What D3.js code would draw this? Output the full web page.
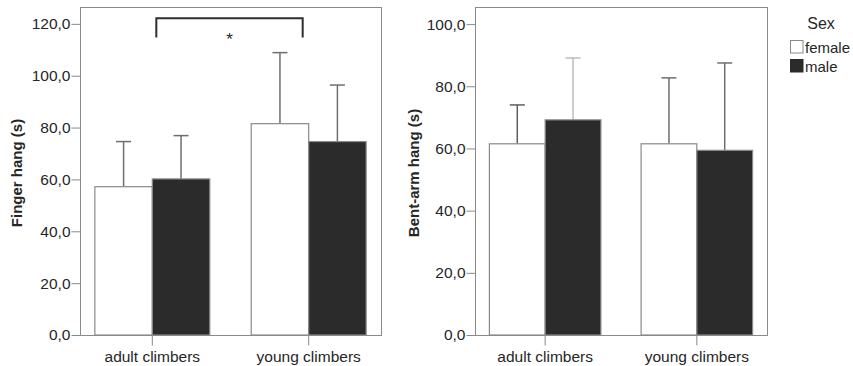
<!DOCTYPE html>
<html><head><meta charset="utf-8">
<script src="https://cdn.jsdelivr.net/npm/d3@7"></script>
<style>
body{margin:0;background:#fff;}
svg{display:block;font-family:"Liberation Sans",Arial,sans-serif;}
</style></head>
<body><svg id="c" width="853" height="366"></svg>
<script>
const categories = ["adult climbers", "young climbers"];
const seriesNames = ["female", "male"];
const fingerMeanFemale = [57.2, 81.5];
const fingerMeanMale = [60.2, 74.6];
const fingerUpperFemale = [74.6, 108.9];
const fingerUpperMale = [76.9, 96.4];
const bentMeanFemale = [61.5, 61.5];
const bentMeanMale = [69.2, 59.4];
const bentUpperFemale = [74.0, 82.7];
const bentUpperMale = [89.1, 87.5];
const fingerTicks = [0, 20, 40, 60, 80, 100, 120];
const bentTicks = [0, 20, 40, 60, 80, 100];

const svg = d3.select("#c");
const fmt = v => d3.format(".1f")(v).replace(".", ",");
const textColor = "#262626";
const frameColor = "#8a8a8a";
const fills = {female: "#ffffff", male: "#2b2b2b"};

function panel(opts) {
  const {x0, x1, yTop, yBot, yMax, ticks, title, titleX, meanF, meanM, upF, upM, errColors} = opts;
  const g = svg.append("g");
  const y = d3.scaleLinear().domain([0, yMax]).range([yBot, yTop]);
  const x = d3.scaleBand().domain(categories).range([x0, x1]).paddingInner(0.265).paddingOuter(0.095);
  const xs = d3.scaleBand().domain(seriesNames).range([0, x.bandwidth()]);

  g.append("rect").attr("x", x0 + 0.5).attr("y", yTop + 0.5).attr("width", x1 - x0).attr("height", yBot - yTop)
    .attr("fill", "none").attr("stroke", frameColor).attr("stroke-width", 1);

  const ya = g.append("g").attr("transform", `translate(${x0 + 0.5},0)`)
    .call(d3.axisLeft(y).tickValues(ticks).tickFormat(fmt).tickSize(9).tickPadding(1));
  ya.select(".domain").remove();
  ya.selectAll("line").attr("stroke", frameColor);
  ya.selectAll("text").attr("font-size", 15.5).attr("fill", textColor).attr("font-family", "Liberation Sans, Arial, sans-serif");

  const xa = g.append("g").attr("transform", `translate(0,${yBot + 0.5})`)
    .call(d3.axisBottom(x).tickSize(10).tickPadding(6));
  xa.select(".domain").remove();
  xa.selectAll("line").attr("stroke", frameColor);
  xa.selectAll("text").attr("font-size", 15.5).attr("fill", textColor).attr("font-family", "Liberation Sans, Arial, sans-serif").attr("dy", "0.68em");

  const data = [];
  categories.forEach((c, i) => {
    data.push({c, s: "female", v: meanF[i], u: upF[i], ec: errColors[0][i]});
    data.push({c, s: "male", v: meanM[i], u: upM[i], ec: errColors[1][i]});
  });

  const eb = g.selectAll(".err").data(data).enter().append("g");
  eb.append("line")
    .attr("x1", d => x(d.c) + xs(d.s) + xs.bandwidth() / 2)
    .attr("x2", d => x(d.c) + xs(d.s) + xs.bandwidth() / 2)
    .attr("y1", d => y(d.v)).attr("y2", d => y(d.u))
    .attr("stroke", d => d.ec).attr("stroke-width", 1.5);
  eb.append("line")
    .attr("x1", d => x(d.c) + xs(d.s) + xs.bandwidth() / 2 - 7.5)
    .attr("x2", d => x(d.c) + xs(d.s) + xs.bandwidth() / 2 + 7.5)
    .attr("y1", d => y(d.u)).attr("y2", d => y(d.u))
    .attr("stroke", d => d.ec).attr("stroke-width", 1.5);

  g.selectAll(".bar").data(data).enter().append("rect")
    .attr("x", d => x(d.c) + xs(d.s))
    .attr("y", d => y(d.v))
    .attr("width", xs.bandwidth())
    .attr("height", d => yBot - y(d.v))
    .attr("fill", d => fills[d.s])
    .attr("stroke", frameColor).attr("stroke-width", 1.2);

  g.append("text").attr("transform", `translate(${titleX},${(yTop + yBot) / 2 + 2}) rotate(-90)`)
    .attr("text-anchor", "middle").attr("dominant-baseline", "central")
    .attr("font-size", 15).attr("font-weight", "bold").attr("fill", textColor).text(title);
  return {x, xs, y};
}

const L = panel({x0: 80, x1: 381, yTop: 7, yBot: 335, yMax: 126.5, ticks: fingerTicks, title: "Finger hang (s)", titleX: 16,
  meanF: fingerMeanFemale, meanM: fingerMeanMale, upF: fingerUpperFemale, upM: fingerUpperMale,
  errColors: [["#6e6e6e", "#6e6e6e"], ["#6e6e6e", "#6e6e6e"]]});

const R = panel({x0: 475, x1: 767, yTop: 7, yBot: 335, yMax: 105.5, ticks: bentTicks, title: "Bent-arm hang (s)", titleX: 413,
  meanF: bentMeanFemale, meanM: bentMeanMale, upF: bentUpperFemale, upM: bentUpperMale,
  errColors: [["#5e5e5e", "#6e6e6e"], ["#bdbdbd", "#6e6e6e"]]});

// significance bracket (finger hang, adult vs young)
const bx1 = L.x(categories[0]) + L.x.bandwidth() / 2 + 4;
const bx2 = L.x(categories[1]) + L.x.bandwidth() / 2 - 6;
const byTop = L.y(122.2);
const byBot = L.y(114.7);
svg.append("path")
  .attr("d", `M${bx1},${byBot}V${byTop}H${bx2}V${byBot}`)
  .attr("fill", "none").attr("stroke", "#2e2e2e").attr("stroke-width", 2);
svg.append("text").attr("x", (bx1 + bx2) / 2).attr("y", byBot + 7)
  .attr("text-anchor", "middle").attr("font-size", 17).attr("fill", textColor).text("*");

// legend
const lg = svg.append("g");
lg.append("text").attr("x", 821).attr("y", 29).attr("text-anchor", "middle")
  .attr("font-size", 16).attr("fill", textColor).text("Sex");
seriesNames.forEach((s, i) => {
  lg.append("rect").attr("x", 790.5).attr("y", 40.5 + i * 19).attr("width", 12.5).attr("height", 12.5)
    .attr("fill", fills[s]).attr("stroke", s === "female" ? frameColor : "#2b2b2b").attr("stroke-width", 1);
  lg.append("text").attr("x", 805).attr("y", 52.5 + i * 19).attr("font-size", 15)
    .attr("fill", textColor).text(s);
});
</script></body></html>
